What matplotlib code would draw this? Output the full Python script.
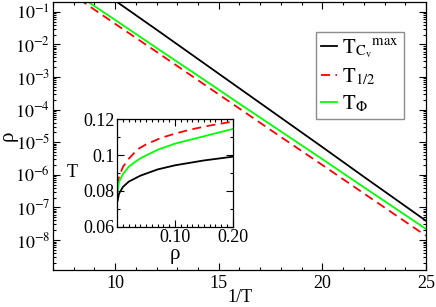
import matplotlib
matplotlib.use("Agg")
import matplotlib.pyplot as plt
from matplotlib.ticker import MultipleLocator, LogLocator, FixedLocator, NullFormatter, FixedFormatter
import numpy as np

# ---- main panel data: 1/T vs log10(rho)
invT_cv = [10, 12, 14, 16, 18, 20, 22, 25]
log_rho_cv = [-0.66, -1.55, -2.45, -3.35, -4.25, -5.15, -6.06, -7.41]

invT_half = [8, 10, 12, 14, 16, 18, 20, 22, 25]
log_rho_half = [-0.50, -1.37, -2.23, -3.10, -3.97, -4.84, -5.70, -6.57, -7.87]

invT_phi = [8, 10, 12, 14, 16, 18, 20, 22, 25]
log_rho_phi = [-0.40, -1.25, -2.11, -2.96, -3.82, -4.67, -5.52, -6.38, -7.66]

# ---- inset data: rho vs T
rho_cv_in = [0.0005, 0.003, 0.01, 0.02, 0.04, 0.07, 0.10, 0.15, 0.20]
T_cv_in = [0.0745, 0.0785, 0.0823, 0.0852, 0.0885, 0.0920, 0.0943, 0.0970, 0.0991]

rho_phi_in = [0.0005, 0.003, 0.01, 0.02, 0.03, 0.04, 0.07, 0.10, 0.15, 0.20]
T_phi_in = [0.0795, 0.0850, 0.0895, 0.0935, 0.0960, 0.0982, 0.1030, 0.1064, 0.1105, 0.1146]

rho_half_in = [0.0005, 0.003, 0.01, 0.02, 0.035, 0.05, 0.075, 0.10, 0.13, 0.16, 0.20]
T_half_in = [0.0830, 0.0880, 0.0935, 0.0980, 0.1032, 0.1060, 0.1095, 0.1120, 0.1145, 0.1165, 0.1187]

xticks_main = [10, 15, 20, 25]
yticks_main = [1e-8, 1e-7, 1e-6, 1e-5, 1e-4, 1e-3, 1e-2, 1e-1]
ytick_labels_main = [r"$10^{-%d}$" % k for k in [8, 7, 6, 5, 4, 3, 2, 1]]
xticks_in = [0.10, 0.20]
xtick_labels_in = ["0.10", "0.20"]
yticks_in = [0.06, 0.08, 0.10, 0.12]
ytick_labels_in = ["0.06", "0.08", "0.1", "0.12"]

plt.rcParams["font.family"] = ["Liberation Serif", "DejaVu Serif"]
plt.rcParams["mathtext.fontset"] = "stix"

FS = 13
fig = plt.figure(figsize=(4.36, 3.07), dpi=100)
ax = fig.add_axes([0.1216, 0.1205, 0.977 - 0.1216, 0.9935 - 0.1205])

lw = 1.3
ax.plot(invT_cv, 10 ** np.array(log_rho_cv), color="black", lw=lw,
        label=r"$\mathrm{T}_{\mathrm{C}_\mathrm{v}}{}^{\mathrm{max}}$")
ax.plot(invT_half, 10 ** np.array(log_rho_half), color="#ff0000", lw=lw,
        dashes=(5, 3), label=r"$\mathrm{T}_{1/2}$")
ax.plot(invT_phi, 10 ** np.array(log_rho_phi), color="#00ff00", lw=lw,
        label=r"$\mathrm{T}_{\Phi}$")

ax.set_yscale("log")
ax.set_xlim(7, 25)
ax.set_ylim(10 ** -8.92, 10 ** -0.70)
ax.xaxis.set_major_locator(FixedLocator(xticks_main))
ax.xaxis.set_minor_locator(MultipleLocator(1))
ax.yaxis.set_major_locator(FixedLocator(yticks_main))
ax.yaxis.set_major_formatter(FixedFormatter(ytick_labels_main))
ax.yaxis.set_minor_locator(LogLocator(base=10, subs=np.arange(2, 10), numticks=20))
ax.yaxis.set_minor_formatter(NullFormatter())
ax.tick_params(which="both", direction="in", top=True, right=True, labelsize=FS, width=0.8)
ax.tick_params(axis="y", pad=2)
ax.tick_params(which="major", length=5)
ax.tick_params(which="minor", length=2.5)
ax.set_xlabel("1/T", fontsize=FS, labelpad=-2)
ax.set_ylabel("ρ", fontsize=FS + 2)
ax.yaxis.set_label_coords(-0.095, 0.5)
for s in ax.spines.values():
    s.set_linewidth(0.9)

leg = ax.legend(loc="upper left", bbox_to_anchor=(0.725, 0.8958),
                bbox_transform=fig.transFigure, fontsize=FS + 2,
                frameon=True, fancybox=False, handlelength=0.75,
                handletextpad=0.25, labelspacing=0.3, borderpad=0.25,
                borderaxespad=0)
leg.get_frame().set_edgecolor("#707070")
leg.get_frame().set_linewidth(1.0)

# inset
ai = fig.add_axes([0.269, 0.2616, 0.2647, 0.3498])
ai.plot(rho_cv_in, T_cv_in, color="black", lw=lw)
ai.plot(rho_half_in, T_half_in, color="#ff0000", lw=lw, dashes=(5, 3))
ai.plot(rho_phi_in, T_phi_in, color="#00ff00", lw=lw)
ai.set_xlim(0, 0.2)
ai.set_ylim(0.06, 0.12)
ai.xaxis.set_major_locator(FixedLocator(xticks_in))
ai.xaxis.set_major_formatter(FixedFormatter(xtick_labels_in))
ai.xaxis.set_minor_locator(MultipleLocator(0.01))
ai.yaxis.set_major_locator(FixedLocator(yticks_in))
ai.yaxis.set_major_formatter(FixedFormatter(ytick_labels_in))
ai.yaxis.set_minor_locator(MultipleLocator(0.01))
ai.tick_params(which="both", direction="in", top=True, right=True, labelsize=FS, width=0.8, pad=2)
ai.tick_params(which="major", length=5)
ai.tick_params(which="minor", length=2.5)
ai.set_xlabel("ρ", fontsize=FS + 2, labelpad=-1)
ai.set_ylabel("T", fontsize=FS, rotation=0, labelpad=8, va="center")
for s in ai.spines.values():
    s.set_linewidth(0.9)

fig.savefig("out.png", dpi=100)
